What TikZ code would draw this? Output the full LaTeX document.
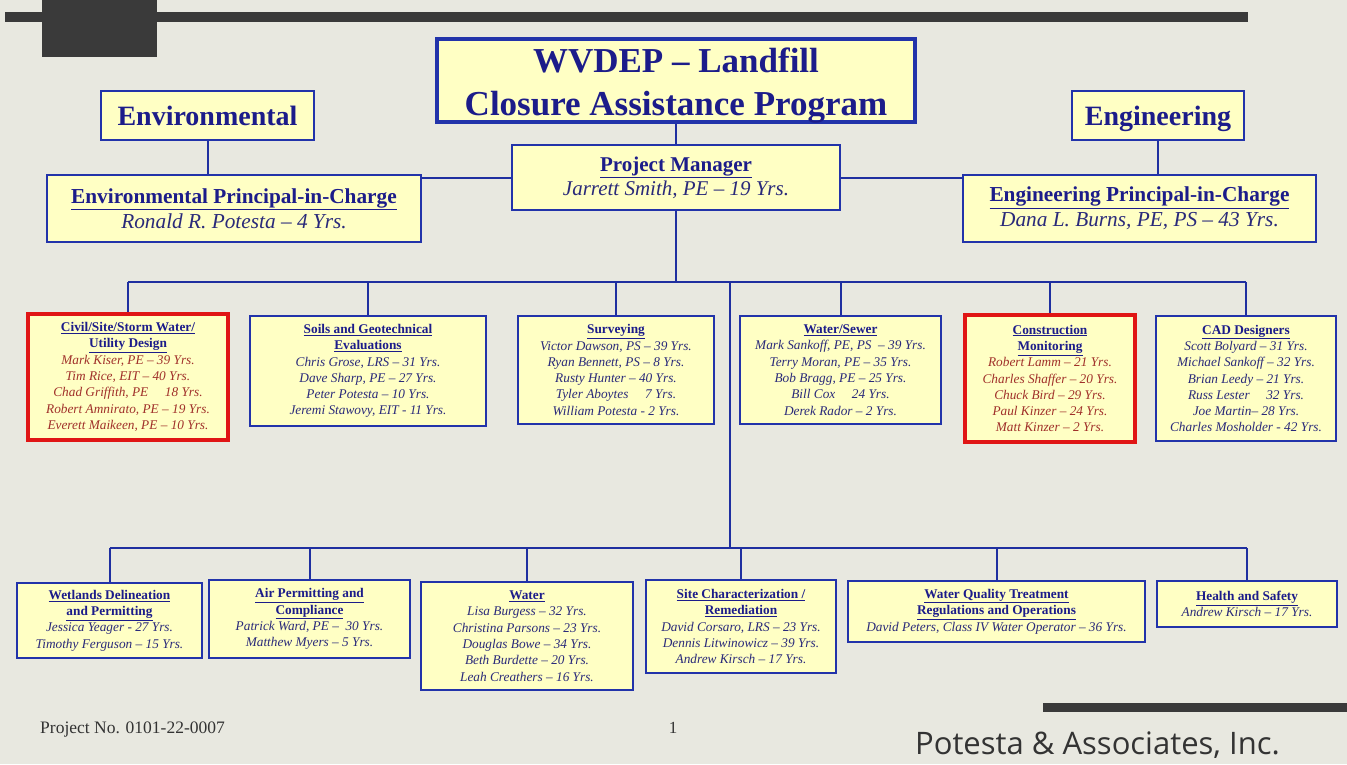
\documentclass[tikz,border=0pt]{standalone}
\usepackage{fontspec}
\setmainfont{Liberation Serif}
\newfontfamily\footsans{Open Sans}
\definecolor{bgc}{HTML}{E8E8E0}
\definecolor{barc}{HTML}{3A3A3A}
\definecolor{boxyellow}{HTML}{FFFFC4}
\definecolor{bordblue}{HTML}{2233AA}
\definecolor{hdblue}{HTML}{1C1C8A}
\definecolor{nameblue}{HTML}{2A2A7A}
\definecolor{namered}{HTML}{A0302A}
\definecolor{boxred}{HTML}{E01515}
\definecolor{linec}{HTML}{1F2FA0}
\newcommand\hd[1]{{\color{hdblue}\upshape\bfseries\underline{#1}}}
\tikzset{
  ybox/.style={draw=bordblue, line width=2pt, fill=boxyellow, align=center, inner sep=0pt, text=nameblue,
     font=\fontsize{13.3}{16.3}\selectfont\itshape},
  rbox/.style={ybox, draw=boxred, line width=4pt, text=namered},
  bigbox/.style={draw=bordblue, line width=2pt, fill=boxyellow, align=center, inner sep=0pt, text=hdblue},
  conn/.style={draw=linec, line width=2pt}
}
\begin{document}
\begin{tikzpicture}[x=1pt,y=-1pt]
\fill[bgc] (0,0) rectangle (1347,764);
\useasboundingbox (0,0) rectangle (1347,764);
% decorative bars
\fill[barc] (5,12) rectangle (1248,22);
\fill[barc] (42,0) rectangle (157,57);
\fill[barc] (1043,703) rectangle (1347,712);

% top boxes
\node[bigbox, line width=3.5pt, minimum width=478, minimum height=83] (title) at (676,80.5) {};
\node[align=center, text=hdblue, inner sep=0pt, font=\fontsize{35}{43}\selectfont\bfseries] (titletext) at (676,86)
  {WVDEP -- Landfill\\Closure Assistance Program};
\node[bigbox, minimum width=213, minimum height=49, text height=22, text depth=3, font=\fontsize{28}{30}\selectfont\bfseries] (env) at (207.5,115.5) {Environmental};
\node[bigbox, minimum width=172, minimum height=49, text height=22, text depth=3, font=\fontsize{28}{30}\selectfont\bfseries] (eng) at (1158,115.5) {Engineering};
\node[bigbox, minimum width=328, minimum height=65, font=\fontsize{21}{24}\selectfont] (pm) at (676,177.5)
  {\textbf{\underline{Project Manager}}\\{\itshape\color{nameblue}Jarrett Smith, PE -- 19 Yrs.}};
\node[bigbox, minimum width=374, minimum height=67, font=\fontsize{21.3}{25}\selectfont] (epic) at (234,208.5)
  {\textbf{\underline{Environmental Principal-in-Charge}}\\{\itshape\color{nameblue}Ronald R. Potesta -- 4 Yrs.}};
\node[bigbox, minimum width=353, minimum height=67, font=\fontsize{21.3}{25}\selectfont] (gpic) at (1139.5,208.5)
  {\textbf{\underline{Engineering Principal-in-Charge}}\\{\itshape\color{nameblue}Dana L. Burns, PE, PS -- 43 Yrs.}};

% first row of groups
\node[rbox, minimum width=200, minimum height=126] (civ) at (128,377)
  {\hd{Civil/Site/Storm Water/}\\\hd{Utility Design}\\Mark Kiser, PE -- 39 Yrs.\\Tim Rice, EIT -- 40 Yrs.\\Chad Griffith, PE\quad\ 18 Yrs.\\Robert Amnirato, PE -- 19 Yrs.\\Everett Maikeen, PE -- 10 Yrs.};
\node[ybox, minimum width=236, minimum height=110] (soil) at (368,371)
  {\hd{Soils and Geotechnical}\\\hd{Evaluations}\\Chris Grose, LRS -- 31 Yrs.\\Dave Sharp, PE -- 27 Yrs.\\Peter Potesta -- 10 Yrs.\\Jeremi Stawovy, EIT - 11 Yrs.};
\node[ybox, minimum width=196, minimum height=108] (surv) at (616,370)
  {\hd{Surveying}\\Victor Dawson, PS -- 39 Yrs.\\Ryan Bennett, PS -- 8 Yrs.\\Rusty Hunter -- 40 Yrs.\\Tyler Aboytes\quad\ 7 Yrs.\\William Potesta - 2 Yrs.};
\node[ybox, minimum width=201, minimum height=108] (ws) at (840.5,370)
  {\hd{Water/Sewer}\\Mark Sankoff, PE, PS\ \ -- 39 Yrs.\\Terry Moran, PE -- 35 Yrs.\\Bob Bragg, PE -- 25 Yrs.\\Bill Cox\quad\ 24 Yrs.\\Derek Rador -- 2 Yrs.};
\node[rbox, minimum width=170, minimum height=127] (cm) at (1050,378.5)
  {\hd{Construction}\\\hd{Monitoring}\\Robert Lamm -- 21 Yrs.\\Charles Shaffer -- 20 Yrs.\\Chuck Bird -- 29 Yrs.\\Paul Kinzer -- 24 Yrs.\\Matt Kinzer -- 2 Yrs.};
\node[ybox, minimum width=180, minimum height=125] (cad) at (1246,378.5)
  {\hd{CAD Designers}\\Scott Bolyard -- 31 Yrs.\\Michael Sankoff -- 32 Yrs.\\Brian Leedy -- 21 Yrs.\\Russ Lester\quad\ 32 Yrs.\\Joe Martin-- 28 Yrs.\\Charles Mosholder - 42 Yrs.};

% second row of groups
\node[ybox, minimum width=185, minimum height=75] (wet) at (109.5,620.5)
  {\hd{Wetlands Delineation}\\\hd{and Permitting}\\Jessica Yeager - 27 Yrs.\\Timothy Ferguson -- 15 Yrs.};
\node[ybox, minimum width=201, minimum height=78] (air) at (309.5,619)
  {\hd{Air Permitting and}\\\hd{Compliance}\\Patrick Ward, PE --\ \ 30 Yrs.\\Matthew Myers -- 5 Yrs.};
\node[ybox, minimum width=212, minimum height=108] (wat) at (527,636)
  {\hd{Water}\\Lisa Burgess -- 32 Yrs.\\Christina Parsons -- 23 Yrs.\\Douglas Bowe -- 34 Yrs.\\Beth Burdette -- 20 Yrs.\\Leah Creathers -- 16 Yrs.};
\node[ybox, minimum width=190, minimum height=93] (site) at (741,626.5)
  {\hd{Site Characterization /}\\\hd{Remediation}\\David Corsaro, LRS -- 23 Yrs.\\Dennis Litwinowicz -- 39 Yrs.\\Andrew Kirsch -- 17 Yrs.};
\node[ybox, minimum width=297, minimum height=61] (wqt) at (996.5,611.5)
  {\hd{Water Quality Treatment}\\\hd{Regulations and Operations}\\David Peters, Class IV Water Operator -- 36 Yrs.};
\node[ybox, minimum width=180, minimum height=46] (hs) at (1247,604)
  {\hd{Health and Safety}\\Andrew Kirsch -- 17 Yrs.};

% connectors
\coordinate (j1) at (730,282);
\coordinate (j2) at (730,548);
\draw[conn] (title.south) -- (pm.north);
\draw[conn] (env.south) -- (env.south |- epic.north);
\draw[conn] (eng.south) -- (eng.south |- gpic.north);
\draw[conn] (epic.east |- pm.west) -- (pm.west);
\draw[conn] (pm.east) -- (gpic.west |- pm.east);
\draw[conn] (pm.south) -- (pm.south |- j1);
\draw[conn] (civ.north |- j1) -- (cad.north |- j1);
\foreach \n in {civ,soil,surv,ws,cm,cad} \draw[conn] (\n.north |- j1) -- (\n.north);
\draw[conn] (j1) -- (j2);
\draw[conn] (wet.north |- j2) -- (hs.north |- j2);
\foreach \n in {wet,air,wat,site,wqt,hs} \draw[conn] (\n.north |- j2) -- (\n.north);

% footer
\node[anchor=base west, font=\fontsize{17.5}{20}\selectfont, text=black!80, inner sep=0pt] (proj) at (40,733) {Project No. 0101-22-0007};
\node[anchor=base, font=\fontsize{17}{20}\selectfont, text=black!80, inner sep=0pt] (pg) at (673,733) {1};
\node[anchor=base east, font=\footsans\fontsize{31}{34}\selectfont, text=black!80, inner sep=0pt] (firm) at (1280,754) {Potesta \& Associates, Inc.};
\end{tikzpicture}
\end{document}
